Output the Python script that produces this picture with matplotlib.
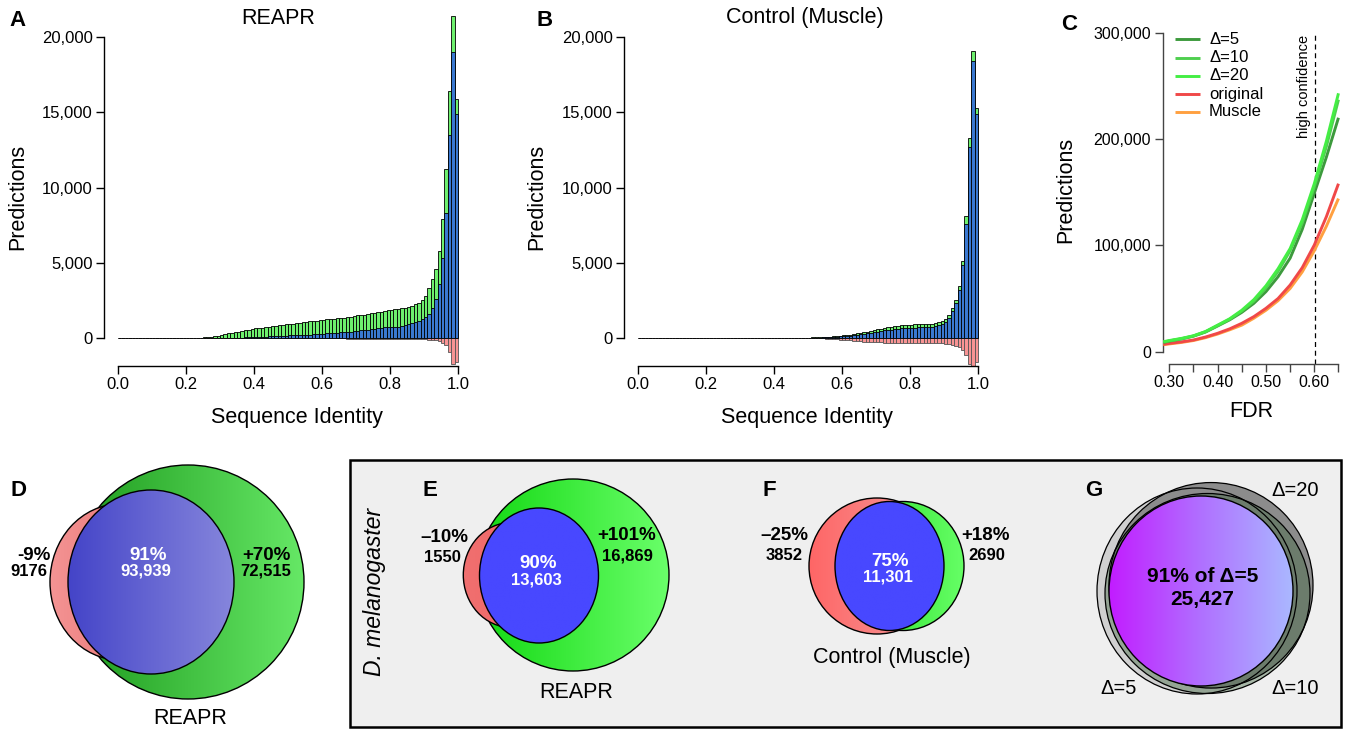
import numpy as np
import matplotlib
matplotlib.use('Agg')
import matplotlib.pyplot as plt
from matplotlib.patches import Ellipse, Rectangle
from matplotlib.colors import LinearSegmentedColormap

plt.rcParams['font.family'] = ['Liberation Sans', 'DejaVu Sans']

W, H = 1347, 730

# ---------------- data ----------------
bin_left = np.arange(100) / 100.0   # 100 bins of width 0.01 (category positions)
bin_width = 0.01

# Panel A: REAPR
A_total = [10, 10, 10, 10, 10, 10, 10, 10, 10, 10,
           10, 10, 10, 10, 10, 10, 10, 10, 10, 10,
           12, 15, 18, 22, 28, 40, 60, 90, 125, 160,
           200, 250, 300, 350, 380, 430, 470, 530, 560, 600,
           640, 660, 690, 710, 730, 770, 800, 840, 860, 900,
           920, 950, 980, 1000, 1030, 1080, 1100, 1130, 1160, 1190,
           1220, 1240, 1260, 1280, 1310, 1330, 1350, 1380, 1420, 1450,
           1500, 1530, 1560, 1600, 1640, 1680, 1720, 1760, 1800, 1840,
           1870, 1900, 1930, 1970, 2000, 2080, 2150, 2260, 2350, 2500,
           2800, 3300, 3900, 4600, 5800, 7900, 11200, 16400, 21400, 15900]
A_shared = [2, 2, 2, 2, 2, 2, 2, 2, 2, 2,
            2, 2, 2, 2, 2, 2, 2, 2, 2, 2,
            2, 2, 2, 2, 2, 2, 2, 2, 2, 2,
            5, 8, 10, 15, 20, 25, 30, 40, 50, 60,
            70, 75, 80, 90, 100, 110, 120, 130, 150, 160,
            170, 180, 190, 200, 210, 220, 230, 240, 250, 270,
            280, 300, 310, 330, 350, 370, 390, 410, 430, 450,
            470, 500, 530, 550, 580, 610, 640, 670, 700, 720,
            730, 740, 750, 800, 860, 910, 980, 1040, 1150, 1260,
            1400, 1600, 2000, 2600, 3600, 5300, 8300, 13500, 19000, 14900]
A_lost = [3, 3, 3, 3, 3, 3, 3, 3, 3, 3,
          3, 3, 3, 3, 3, 3, 3, 3, 3, 3,
          3, 3, 3, 3, 3, 3, 3, 3, 3, 3,
          3, 3, 3, 3, 3, 3, 3, 3, 3, 3,
          3, 3, 3, 3, 3, 3, 3, 3, 3, 3,
          5, 5, 8, 8, 10, 10, 12, 12, 15, 15,
          20, 22, 25, 28, 30, 30, 32, 35, 35, 38,
          40, 40, 42, 45, 45, 48, 48, 50, 50, 52,
          55, 55, 58, 60, 60, 62, 65, 68, 70, 75,
          90, 110, 130, 160, 220, 320, 480, 900, 1750, 1600]

# Panel B: Control (Muscle)
B_total = [5, 5, 5, 5, 5, 5, 5, 5, 5, 5,
           5, 5, 5, 5, 5, 5, 5, 5, 5, 5,
           5, 5, 5, 5, 5, 5, 5, 5, 5, 5,
           5, 5, 5, 5, 5, 5, 5, 5, 5, 5,
           5, 5, 5, 5, 5, 8, 10, 12, 15, 20,
           30, 35, 40, 50, 60, 80, 95, 110, 130, 150,
           180, 200, 230, 260, 300, 330, 370, 420, 470, 520,
           580, 620, 660, 700, 750, 800, 830, 850, 870, 880,
           890, 900, 910, 900, 910, 930, 960, 1000, 1050, 1100,
           1250, 1500, 2000, 2500, 3450, 5100, 8100, 13300, 19100, 15300]
B_shared = [3, 3, 3, 3, 3, 3, 3, 3, 3, 3,
            3, 3, 3, 3, 3, 3, 3, 3, 3, 3,
            3, 3, 3, 3, 3, 3, 3, 3, 3, 3,
            3, 3, 3, 3, 3, 3, 3, 3, 3, 3,
            3, 3, 3, 3, 3, 5, 6, 8, 10, 12,
            15, 20, 25, 30, 40, 50, 60, 75, 90, 100,
            120, 140, 160, 180, 210, 240, 270, 310, 350, 390,
            430, 470, 500, 530, 560, 600, 620, 640, 650, 670,
            680, 690, 700, 700, 710, 730, 760, 800, 870, 950,
            1060, 1350, 1800, 2300, 3200, 4850, 7600, 12700, 18400, 14900]
B_lost = [3, 3, 3, 3, 3, 3, 3, 3, 3, 3,
          3, 3, 3, 3, 3, 3, 3, 3, 3, 3,
          3, 3, 3, 3, 3, 3, 3, 3, 3, 3,
          3, 3, 3, 3, 3, 3, 3, 3, 3, 3,
          3, 3, 3, 3, 3, 4, 5, 6, 8, 10,
          10, 15, 20, 25, 30, 40, 50, 60, 80, 100,
          120, 140, 160, 180, 200, 220, 240, 250, 260, 270,
          280, 290, 300, 300, 310, 310, 320, 320, 330, 330,
          330, 330, 340, 340, 340, 350, 350, 350, 360, 360,
          380, 420, 480, 550, 600, 800, 1150, 1700, 2500, 1600]

hist_yticks = [0, 5000, 10000, 15000, 20000]
hist_yticklabels = ['0', '5,000', '10,000', '15,000', '20,000']
hist_xticks = [0.0, 0.2, 0.4, 0.6, 0.8, 1.0]
hist_xticklabels = ['0.0', '0.2', '0.4', '0.6', '0.8', '1.0']

# Panel C: predictions vs FDR
fdr = [0.2876, 0.30, 0.325, 0.35, 0.375, 0.40, 0.425, 0.45, 0.475,
       0.50, 0.525, 0.55, 0.575, 0.60, 0.625, 0.65]
pred_d5 = [8800, 10000, 12000, 14600, 18500, 24200, 30000, 37000, 45500,
           56500, 70500, 88000, 115000, 149000, 183000, 220000]
pred_d10 = [9000, 10200, 12200, 14800, 18800, 24600, 30500, 38200, 47500,
            60000, 75500, 95000, 121000, 155000, 193000, 237000]
pred_d20 = [9400, 10500, 12500, 15000, 19000, 25000, 31000, 39000, 49000,
            62000, 78000, 97000, 124000, 158000, 198000, 243000]
pred_orig = [7000, 7800, 9200, 11000, 13800, 17300, 21500, 26700, 33000,
             40800, 50000, 62700, 79000, 100300, 127000, 158000]
pred_muscle = [6600, 7300, 8700, 10500, 13200, 16600, 20600, 25000, 31500,
               39000, 48000, 59500, 75000, 95000, 118000, 144000]
c_series = [('Δ=5', pred_d5, '#3d9a3d'), ('Δ=10', pred_d10, '#4fcf4f'),
            ('Δ=20', pred_d20, '#44ee44'), ('original', pred_orig, '#f04848'),
            ('Muscle', pred_muscle, '#ffa040')]
high_conf_fdr = 0.601
c_xticks = [0.30, 0.35, 0.40, 0.45, 0.50, 0.55, 0.60, 0.65]
c_xticklabels = ['0.30', '', '0.40', '', '0.50', '', '0.60', '']
c_yticks = [0, 100000, 200000, 300000]
c_yticklabels = ['0', '100,000', '200,000', '300,000']

# Venn labels
D_labels = ['-9%', '9176', '91%', '93,939', '+70%', '72,515']
E_labels = ['–10%', '1550', '90%', '13,603', '+101%', '16,869']
F_labels = ['–25%', '3852', '75%', '11,301', '+18%', '2690']
G_labels = ['91% of Δ=5', '25,427']

# ---------------- figure ----------------
fig = plt.figure(figsize=(W / 100, H / 100), dpi=100)


def make_axes(xlim, ylim, xmap, ymap):
    xa, pa, xb, pb = xmap
    sx = (pb - pa) / (xb - xa)
    left = pa + (xlim[0] - xa) * sx
    right = pa + (xlim[1] - xa) * sx
    ya, qa, yb, qb = ymap
    sy = (qb - qa) / (yb - ya)
    bottom = qa + (ylim[0] - ya) * sy
    top = qa + (ylim[1] - ya) * sy
    ax = fig.add_axes([left / W, 1 - bottom / H, (right - left) / W, (bottom - top) / H])
    ax.set_xlim(xlim)
    ax.set_ylim(ylim)
    ax.patch.set_alpha(0)
    return ax, (left, top, right, bottom)


def px_to_axes(box, px, py):
    left, top, right, bottom = box
    return (px - left) / (right - left), (bottom - py) / (bottom - top)


def style_hist(ax, box, ylab_px, xlab_px):
    for s in ['top', 'right']:
        ax.spines[s].set_visible(False)
    ax.spines['left'].set_bounds(0, 20000)
    ax.spines['bottom'].set_bounds(0, 1)
    for s in ['left', 'bottom']:
        ax.spines[s].set_linewidth(1.0)
    ax.set_yticks(hist_yticks)
    ax.set_yticklabels(hist_yticklabels)
    ax.set_xticks(hist_xticks)
    ax.set_xticklabels(hist_xticklabels)
    ax.tick_params(axis='both', direction='out', length=5.5, width=1.0, labelsize=12)
    ax.tick_params(axis='y', pad=3)
    ax.tick_params(axis='x', pad=2.5)
    ax.set_ylabel('Predictions', fontsize=15.5, va='center', ha='center')
    ax.yaxis.set_label_coords(*px_to_axes(box, *ylab_px))
    ax.set_xlabel('Sequence Identity', fontsize=15.5, va='center', ha='center')
    ax.xaxis.set_label_coords(*px_to_axes(box, *xlab_px))


def draw_hist(ax, total, shared, lost):
    ax.bar(bin_left, total, width=bin_width, align='edge', color='#6ef06e',
           edgecolor='black', linewidth=0.6, zorder=2)
    ax.bar(bin_left, shared, width=bin_width, align='edge', color='#3a78d0',
           edgecolor='black', linewidth=0.6, zorder=3)
    ax.bar(bin_left, [-v for v in lost], width=bin_width, align='edge', color='#f89494',
           edgecolor='#555555', linewidth=0.6, zorder=2)


# Panel A
axA, boxA = make_axes((-0.04, 1.04), (-1860, 22000), (0, 118, 1, 458), (0, 338, 20000, 37))
draw_hist(axA, A_total, A_shared, A_lost)
style_hist(axA, boxA, (18, 197), (297, 417))

# Panel B
axB, boxB = make_axes((-0.04, 1.04), (-1860, 22000), (0, 638, 1, 978), (0, 338, 20000, 37))
draw_hist(axB, B_total, B_shared, B_lost)
style_hist(axB, boxB, (537, 197), (807, 417))

# Panel C
axC, boxC = make_axes((0.2876, 0.662), (-11570, 315000), (0.30, 1169.3, 0.60, 1314.3),
                      (0, 351.7, 300000, 32.7))
for name, vals, col in [c_series[4], c_series[3], c_series[0], c_series[1], c_series[2]]:
    axC.plot(fdr, vals, color=col, linewidth=2.1, solid_capstyle='butt', zorder=3)
axC.plot([high_conf_fdr, high_conf_fdr], [-11570, 300000], color='black', linestyle=(0, (4, 3)),
         linewidth=0.9, zorder=2)
axC.text(0.579, 249000, 'high confidence', rotation=90, ha='center', va='center', fontsize=10.5)
for s in ['top', 'right']:
    axC.spines[s].set_visible(False)
axC.spines['left'].set_bounds(0, 300000)
axC.spines['bottom'].set_bounds(0.30, 0.65)
for s in ['left', 'bottom']:
    axC.spines[s].set_color('#444444')
    axC.spines[s].set_linewidth(1.0)
axC.set_xticks(c_xticks)
axC.set_xticklabels(c_xticklabels)
axC.set_yticks(c_yticks)
axC.set_yticklabels(c_yticklabels)
axC.tick_params(axis='both', direction='out', length=5.5, width=1.0, labelsize=11.5, color='#444444')
axC.tick_params(axis='y', pad=3.2)
axC.tick_params(axis='x', pad=2.5)
axC.set_ylabel('Predictions', fontsize=15.5, va='center', ha='center')
axC.yaxis.set_label_coords(*px_to_axes(boxC, 1066, 190))
axC.set_xlabel('FDR', fontsize=15.5, va='center', ha='center')
axC.xaxis.set_label_coords(*px_to_axes(boxC, 1251, 412))

# ---------------- overlay (pixel coordinates) ----------------
ov = fig.add_axes([0, 0, 1, 1])
ov.set_xlim(0, W)
ov.set_ylim(H, 0)
ov.axis('off')
ov.patch.set_alpha(0)

# legend of panel C (drawn manually in pixel space)
leg_y = [39, 58, 76, 94, 112]
for (name, vals, col), y in zip(c_series, leg_y):
    ov.plot([1175, 1200], [y, y], color=col, linewidth=2.1, solid_capstyle='butt')
    ov.text(1209, y, name, fontsize=12, va='center', ha='left')

# titles
ov.text(278, 18, 'REAPR', fontsize=15.5, ha='center', va='center')
ov.text(805, 18, 'Control (Muscle)', fontsize=15.5, ha='center', va='center')

# panel letters
for letter, x, y in [('A', 18, 20), ('B', 545, 20), ('C', 1069, 24),
                     ('D', 18, 490), ('E', 430, 490), ('F', 769, 490), ('G', 1094, 490)]:
    ov.text(x, y, letter, fontsize=16, fontweight='bold', ha='center', va='center', zorder=10)

# grey box
ov.add_patch(Rectangle((349.5, 459.5), 991, 267, facecolor='#efefef', edgecolor='black',
                       linewidth=1.8, zorder=0))
ov.text(375, 592, 'D. melanogaster', rotation=90, fontsize=16.5, style='italic',
        ha='center', va='center')


def grad_ellipse(cx, cy, rx, ry, colors, z, edge='black', lw=1.0, alpha=1.0):
    e = Ellipse((cx, cy), 2 * rx, 2 * ry, facecolor='none', edgecolor=edge, linewidth=lw,
                zorder=z + 0.1)
    ov.add_patch(e)
    cmap = LinearSegmentedColormap.from_list('g', colors)
    grad = np.linspace(0, 1, 256).reshape(1, -1)
    im = ov.imshow(grad, cmap=cmap, extent=(cx - rx, cx + rx, cy + ry, cy - ry),
                   aspect='auto', zorder=z, interpolation='bilinear', alpha=alpha)
    im.set_clip_path(e)
    return e


# Panel D
grad_ellipse(188, 582, 116, 117, ['#1e9a1e', '#66e866'], 2)
grad_ellipse(120, 582, 70, 78, ['#f49494', '#e06262'], 3)
grad_ellipse(151, 582, 83, 92, ['#4444c8', '#8686dc'], 4)
ov.text(34, 555, D_labels[0], fontsize=13.5, fontweight='bold', ha='center', va='center')
ov.text(29, 571, D_labels[1], fontsize=12, fontweight='bold', ha='center', va='center')
ov.text(148, 555, D_labels[2], fontsize=13.5, fontweight='bold', ha='center', va='center',
        color='white', zorder=8)
ov.text(146, 571, D_labels[3], fontsize=12, fontweight='bold', ha='center', va='center',
        color='white', zorder=8)
ov.text(266, 555, D_labels[4], fontsize=13.5, fontweight='bold', ha='center', va='center', zorder=8)
ov.text(266, 571, D_labels[5], fontsize=12, fontweight='bold', ha='center', va='center', zorder=8)
ov.text(190, 718, 'REAPR', fontsize=15.5, ha='center', va='center')

# Panel E
grad_ellipse(573, 575, 96, 96, ['#12d812', '#6aff6a'], 2)
grad_ellipse(511.3, 575, 48, 52.5, ['#f07070', '#f06060'], 3)
grad_ellipse(539, 575.5, 59.5, 67.5, ['#4848ff', '#4848ff'], 4)
ov.text(444, 538, E_labels[0], fontsize=13.5, fontweight='bold', ha='center', va='center')
ov.text(442, 557, E_labels[1], fontsize=12, fontweight='bold', ha='center', va='center')
ov.text(538, 563, E_labels[2], fontsize=13.5, fontweight='bold', ha='center', va='center',
        color='white', zorder=8)
ov.text(536, 580, E_labels[3], fontsize=12, fontweight='bold', ha='center', va='center',
        color='white', zorder=8)
ov.text(627, 535, E_labels[4], fontsize=13.5, fontweight='bold', ha='center', va='center', zorder=8)
ov.text(627, 556, E_labels[5], fontsize=12, fontweight='bold', ha='center', va='center', zorder=8)
ov.text(576, 693, 'REAPR', fontsize=15.5, ha='center', va='center')

# Panel F
grad_ellipse(877, 566, 68, 68, ['#ff6666', '#f2a0a0'], 2)
grad_ellipse(903, 566, 61, 64.5, ['#22d822', '#66ff66'], 3)
grad_ellipse(889.5, 566, 54.5, 64.5, ['#4848ff', '#4848ff'], 4)
ov.text(784, 536, F_labels[0], fontsize=13.5, fontweight='bold', ha='center', va='center')
ov.text(784, 555, F_labels[1], fontsize=12, fontweight='bold', ha='center', va='center')
ov.text(890, 561, F_labels[2], fontsize=13.5, fontweight='bold', ha='center', va='center',
        color='white', zorder=8)
ov.text(888, 577, F_labels[3], fontsize=12, fontweight='bold', ha='center', va='center',
        color='white', zorder=8)
ov.text(986, 535, F_labels[4], fontsize=13.5, fontweight='bold', ha='center', va='center')
ov.text(987, 556, F_labels[5], fontsize=12, fontweight='bold', ha='center', va='center')
ov.text(892, 658, 'Control (Muscle)', fontsize=15.5, ha='center', va='center')

# Panel G
g5 = ((1197, 591), 200, 206)
g10 = ((1207.5, 593.5), 205, 200)
g20 = ((1211, 585.3), 204, 205.5)
ov.add_patch(Ellipse(*g5, facecolor='#d0d0d0', edgecolor='none', zorder=2))
ov.add_patch(Ellipse(*g20, facecolor='#8c8c8c', edgecolor='none', zorder=2.2))
ov.add_patch(Ellipse(*g10, facecolor='#3c643c', alpha=0.4, edgecolor='none', zorder=2.4))
for g in (g5, g10, g20):
    ov.add_patch(Ellipse(*g, facecolor='none', edgecolor='black', linewidth=0.9, zorder=3))
grad_ellipse(1201, 591, 92, 95, ['#c21cff', '#b070ff', '#aab8ff'], 4)
ov.text(1203, 577, G_labels[0], fontsize=15, fontweight='bold', ha='center', va='center', zorder=8)
ov.text(1202, 599, G_labels[1], fontsize=15, fontweight='bold', ha='center', va='center', zorder=8)
ov.text(1295, 490, 'Δ=20', fontsize=14.5, ha='center', va='center')
ov.text(1119, 689, 'Δ=5', fontsize=14.5, ha='center', va='center')
ov.text(1295, 689, 'Δ=10', fontsize=14.5, ha='center', va='center')

ov.set_xlim(0, W)
ov.set_ylim(H, 0)

fig.savefig('out.png', dpi=100)
